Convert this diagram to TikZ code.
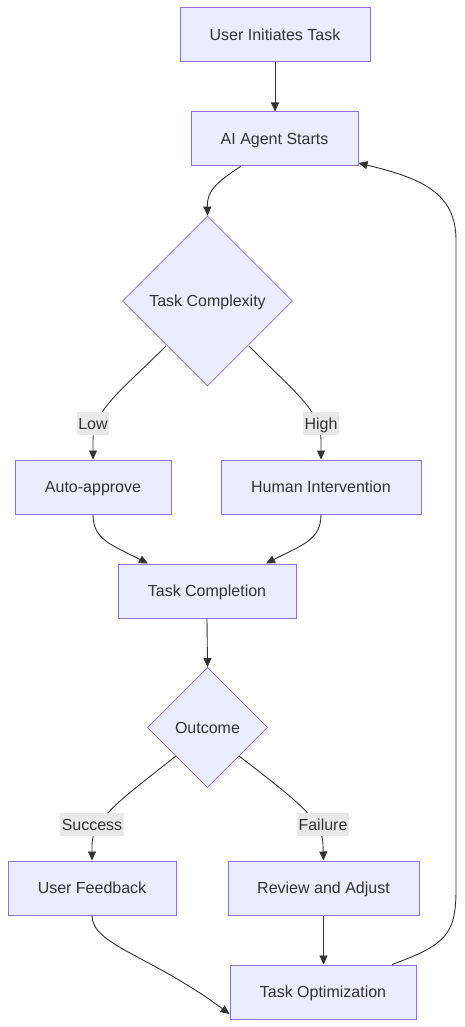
\documentclass[tikz,border=0pt]{standalone}
\usepackage{fontspec}
\setmainfont{Liberation Sans}
\usetikzlibrary{shapes.geometric,arrows.meta}
\definecolor{nodefill}{HTML}{ECECFF}
\definecolor{nodeline}{HTML}{9370DB}
\definecolor{txt}{HTML}{333333}
\definecolor{lblbg}{HTML}{E8E8E8}
\tikzset{
  box/.style={draw=nodeline, fill=nodefill, line width=1pt, text=txt, inner sep=0pt, minimum height=54pt, text height=14.5pt, text depth=3pt, font=\fontsize{16}{19}\selectfont},
  dia/.style={diamond, draw=nodeline, fill=nodefill, line width=0.8pt, text=txt, inner sep=0pt, aspect=1, text height=14.5pt, text depth=3pt, font=\fontsize{16}{19}\selectfont},
  lbl/.style={fill=lblbg, text=txt, inner xsep=1.5pt, inner ysep=1.5pt, text height=15.5pt, text depth=4.5pt, font=\fontsize{16}{19}\selectfont},
  edge/.style={draw=txt, line width=0.9pt, -{Triangle[length=9pt,width=8pt]}}
}
\begin{document}
\begin{tikzpicture}[x=1pt,y=-1pt]
\useasboundingbox (0,0) rectangle (464,1027);
\node[box, minimum width=190pt] (uit) at (275,35) {User Initiates Task};
\node[box, minimum width=167pt] (ais) at (274.5,139) {AI Agent Starts};
\node[dia, minimum width=170pt, minimum height=170pt] (cx) at (207.5,301) {Task Complexity};
\node[box, minimum width=156pt] (aa) at (93,487) {Auto-approve};
\node[box, minimum width=200pt] (hi) at (321,487) {Human Intervention};
\node[box, minimum width=178pt] (tc) at (207,591) {Task Completion};
\node[dia, minimum width=120pt, minimum height=120pt] (oc) at (207.5,727.5) {Outcome};
\node[box, minimum width=168pt] (uf) at (92,888) {User Feedback};
\node[box, minimum width=191pt] (ra) at (323.5,888) {Review and Adjust};
\node[box, minimum width=186pt] (to) at (323,992) {Task Optimization};

\draw[edge] (uit.south) -- (uit.south |- ais.north);
\draw[edge] ([xshift=-34pt]ais.south) .. controls (214,184) and (207,192) .. (cx.north);
\draw[edge] (166,346) .. controls (122,390) and (93,410) .. (93,440) -- (aa.north);
\draw[edge] (249,346) .. controls (292,390) and (321,410) .. (321,440) -- (hi.north);
\draw[edge] (aa.south) .. controls (93,540) and (112,545) .. ([xshift=-59pt]tc.north);
\draw[edge] (hi.south) .. controls (321,540) and (302,545) .. ([xshift=59pt]tc.north);
\draw[edge] (tc.south) -- (oc.north);
\draw[edge] (176,756) .. controls (120,800) and (92,820) .. (92,845) -- (uf.north);
\draw[edge] (239,756) .. controls (296,800) and (323,820) .. (323,845) -- (ra.north |- uf.north);
\draw[edge] (uf.south) .. controls (92,945) and (150,955) .. ([yshift=-22pt]to.west);
\draw[edge] (ra.south) -- (ra.south |- to.north);
\draw[edge] ([xshift=69pt]to.north) .. controls (445,945) and (456,935) .. (456,890) -- (456,240) .. controls (456,192) and (420,178) .. ([yshift=-24pt]ais.east);

\node[lbl] (llow) at (93,423.5) {Low};
\node[lbl] (lhigh) at (321,423.5) {High};
\node[lbl] (lsucc) at (92,824.5) {Success};
\node[lbl] (lfail) at (323,824.5) {Failure};
\end{tikzpicture}
\end{document}
